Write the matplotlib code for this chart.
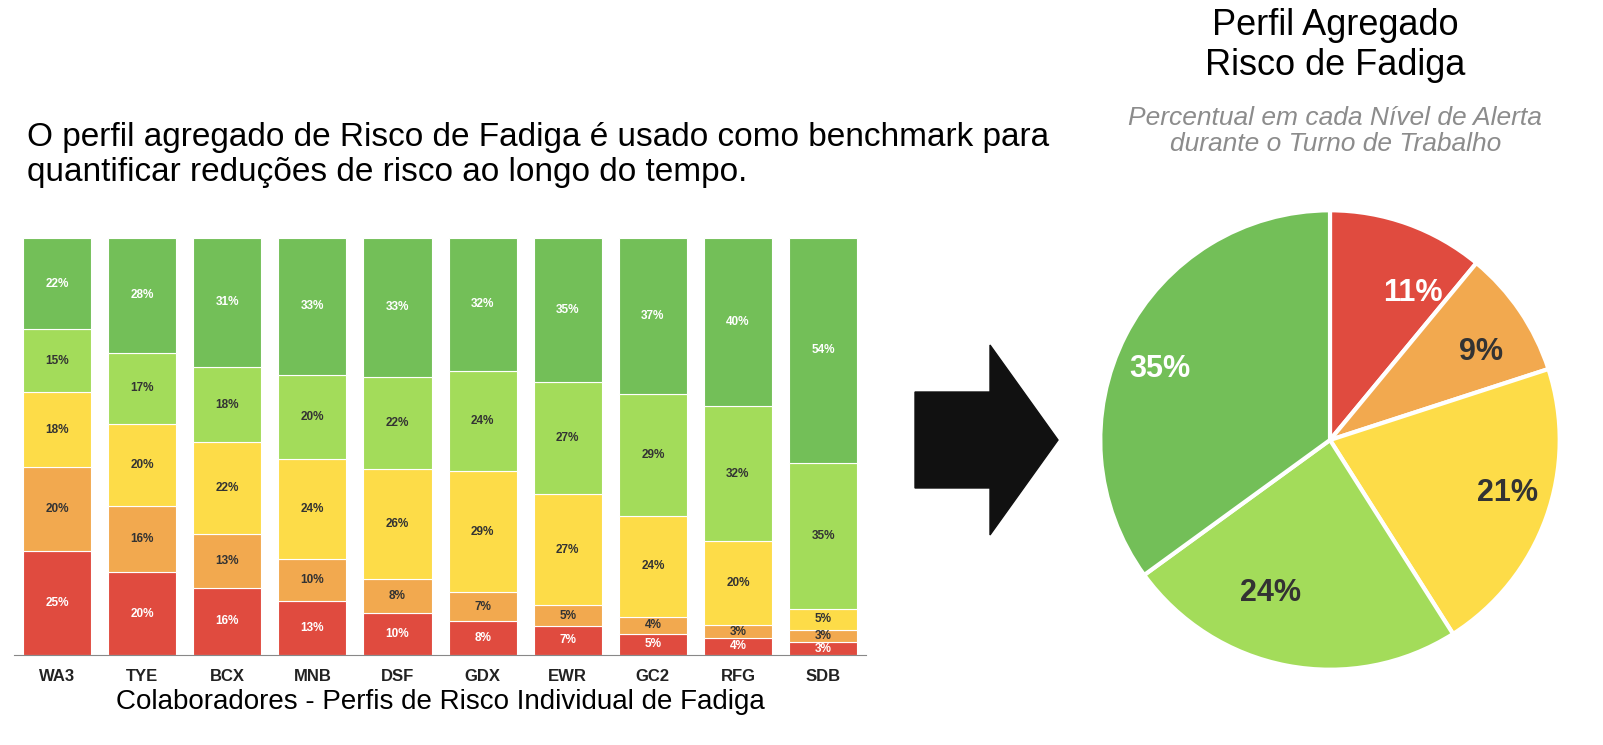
import numpy as np
import matplotlib.pyplot as plt
from matplotlib.patches import Polygon

plt.rcParams['font.family'] = ['Liberation Sans', 'DejaVu Sans']

people = ["WA3", "TYE", "BCX", "MNB", "DSF", "GDX", "EWR", "GC2", "RFG", "SDB"]
red = [25, 20, 16, 13, 10, 8, 7, 5, 4, 3]
orange = [20, 16, 13, 10, 8, 7, 5, 4, 3, 3]
yellow = [18, 20, 22, 24, 26, 29, 27, 24, 20, 5]
lgreen = [15, 17, 18, 20, 22, 24, 27, 29, 32, 35]
green = [22, 28, 31, 33, 33, 32, 35, 37, 40, 54]

pie_vals = [11, 9, 21, 24, 35]

colors = ["#E04B3F", "#F2A94F", "#FDDC48", "#A3DC5A", "#73BF58"]
txt_colors = ["white", "#333333", "#333333", "#333333", "white"]

fig = plt.figure(figsize=(16.03, 7.45), dpi=100)

# stacked bars, each normalised to the full height
ax = fig.add_axes([0.009, 0.121, 0.531, 0.56])
series = np.array([red, orange, yellow, lgreen, green], dtype=float)
totals = series.sum(axis=0)
x = np.arange(len(people))
bottom = np.zeros(len(people))
for vals, c, tc in zip(series, colors, txt_colors):
    h = vals / totals * 100
    ax.bar(x, h, bottom=bottom, width=0.8, color=c, edgecolor="white", linewidth=0.8)
    for xi, b, hi, v in zip(x, bottom, h, vals):
        ax.text(xi, b + hi / 2, f"{int(v)}%", ha="center", va="center",
                fontsize=8.5, fontweight="bold", color=tc)
    bottom += h
ax.set_xlim(-0.5, len(people) - 0.5)
ax.set_ylim(0, 100)
ax.set_xticks(x)
ax.set_xticklabels(people, fontsize=12, fontweight="bold", color="#222222")
ax.tick_params(axis="x", length=0, pad=10)
ax.set_yticks([])
for s in ["top", "left", "right"]:
    ax.spines[s].set_visible(False)
ax.spines["bottom"].set_color("#888888")
ax.set_xlabel("Colaboradores - Perfis de Risco Individual de Fadiga", fontsize=20, labelpad=4)

fig.text(0.017, 0.748, "O perfil agregado de Risco de Fadiga é usado como benchmark para\n"
         "quantificar reduções de risco ao longo do tempo.", fontsize=24,
         va="bottom", ha="left", linespacing=1.15)

# arrow
pts = [(915, 392), (990, 392), (990, 345), (1058, 440), (990, 535), (990, 488), (915, 488)]
arrow = Polygon([(px / 1603, 1 - py / 745) for px, py in pts], closed=True,
                color="#111111", transform=fig.transFigure)
fig.patches.append(arrow)

# pie
pax = fig.add_axes([1098 / 1603, 73 / 745, 464 / 1603, 464 / 745])
wedges, texts = pax.pie(pie_vals, colors=colors, startangle=90, counterclock=False,
                        wedgeprops=dict(edgecolor="white", linewidth=3),
                        labels=[f"{v}%" for v in pie_vals], labeldistance=0.68)
for t, tc in zip(texts, txt_colors):
    t.set_color(tc)
    t.set_fontsize(22)
    t.set_fontweight("bold")
pax.set_xlim(-1.01, 1.01)
pax.set_ylim(-1.01, 1.01)
pax.set_aspect("equal")

fig.text(0.833, 0.888, "Perfil Agregado\nRisco de Fadiga", ha="center", va="bottom",
         fontsize=26, linespacing=1.2)
fig.text(0.833, 0.79, "Percentual em cada Nível de Alerta\ndurante o Turno de Trabalho",
         ha="center", va="bottom", fontsize=19, style="italic", color="#8c8c8c",
         linespacing=1.15)

fig.savefig("out.png", dpi=100)
